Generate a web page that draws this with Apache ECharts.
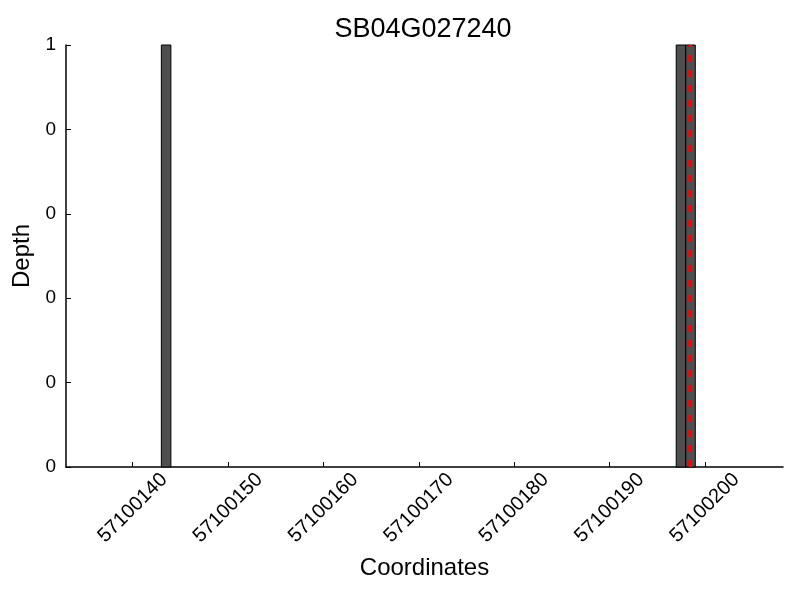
<!DOCTYPE html>
<html>
<head>
<meta charset="utf-8">
<script src="https://cdn.jsdelivr.net/npm/echarts@6/dist/echarts.min.js"></script>
<style>html,body{margin:0;padding:0;background:#fff}#c{width:800px;height:600px}</style>
</head>
<body>
<div id="c"></div>
<script>
const title = "SB04G027240";
const positions = [57100143, 57100197, 57100198];
const depths = [1, 1, 1];
const xTicks = [57100140, 57100150, 57100160, 57100170, 57100180, 57100190, 57100200];
const yTicks = [0, 0.2, 0.4, 0.6, 0.8, 1];
const markerPos = 57100198.5;
const xMin = 57100133, xMax = 57100208.2;

const font = "Liberation Sans, Arial, sans-serif";
const chart = echarts.init(document.getElementById('c'));
chart.setOption({
  animation: false,
  title: { text: title, left: 418, top: 11, textAlign: 'center',
    textStyle: { fontFamily: font, fontSize: 27, fontWeight: 'normal', color: '#000' } },
  grid: { left: 66, right: 17, top: 45, bottom: 133 },
  xAxis: {
    type: 'value', min: xMin, max: xMax,
    name: 'Coordinates', nameLocation: 'middle', nameGap: 89,
    nameTextStyle: { fontFamily: font, fontSize: 24, color: '#000' },
    axisLine: { lineStyle: { color: '#000', width: 1.5 } },
    axisTick: { inside: true, length: 5, customValues: xTicks, lineStyle: { color: '#000' } },
    axisLabel: { customValues: xTicks, rotate: 45, fontFamily: font, fontSize: 20, color: '#000', margin: 41,
      align: 'center', verticalAlign: 'middle',
      formatter: v => String(v) },
    splitLine: { show: false }
  },
  yAxis: {
    type: 'value', min: 0, max: 1, interval: 0.2,
    name: 'Depth', nameLocation: 'middle', nameGap: 30,
    nameTextStyle: { fontFamily: font, fontSize: 24, color: '#000' },
    axisLine: { show: true, lineStyle: { color: '#000', width: 1.5 } },
    axisTick: { show: true, inside: true, length: 5, lineStyle: { color: '#000' } },
    axisLabel: { fontFamily: font, fontSize: 19, color: '#000', margin: 10,
      formatter: v => String(Math.trunc(v + 1e-9)) },
    splitLine: { show: false }
  },
  series: [{
    type: 'custom',
    data: positions.map((p, i) => [p, depths[i]]),
    renderItem: function (params, api) {
      const x0 = api.value(0), h = api.value(1);
      const p0 = api.coord([x0, 0]);
      const p1 = api.coord([x0 + 1, h]);
      return {
        type: 'rect',
        shape: { x: p0[0], y: p1[1], width: p1[0] - p0[0], height: p0[1] - p1[1] },
        style: { fill: '#4f4f4f', stroke: '#000', lineWidth: 1 }
      };
    },
    z: 2
  }, {
    type: 'line',
    data: [[markerPos, 0], [markerPos, 1]],
    symbol: 'none',
    lineStyle: { color: '#ff0000', type: [7, 8], width: 3.5 },
    z: 5
  }]
});
</script>
</body>
</html>
